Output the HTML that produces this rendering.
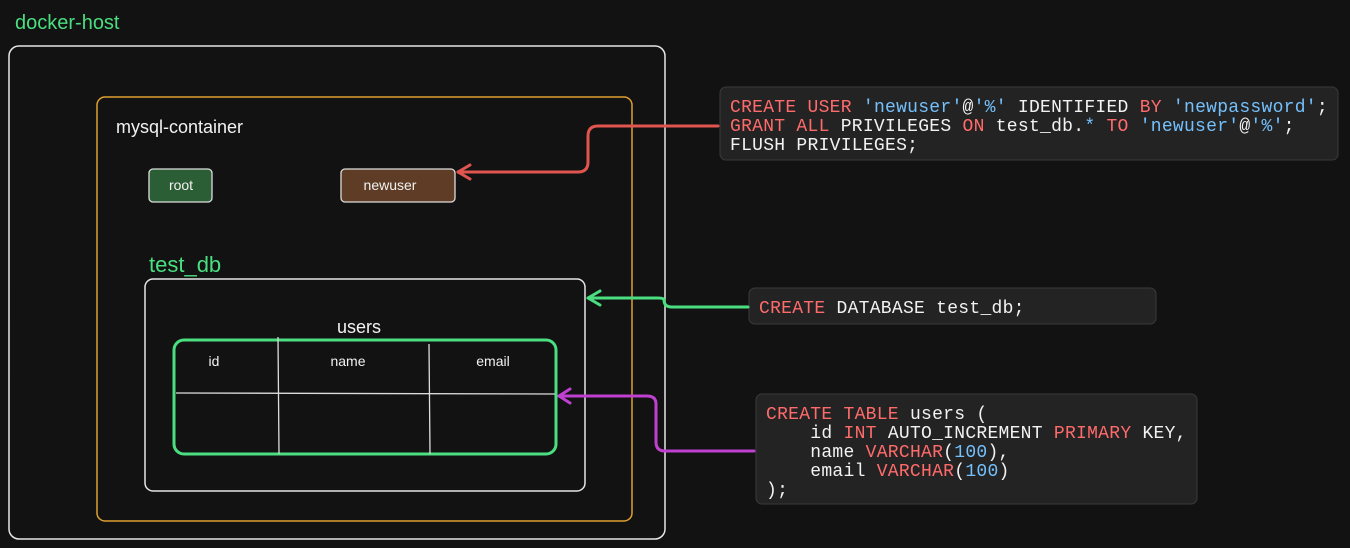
<!DOCTYPE html>
<html><head><meta charset="utf-8"><style>
html,body{margin:0;padding:0;background:#121212;}
svg{display:block}
.s{font-family:"Liberation Sans",sans-serif;}
.m{font-family:"Liberation Mono",monospace;font-size:18px;letter-spacing:0.27px;white-space:pre;}
.k{fill:#ff6b6b}.q{fill:#74c0fc}.w{fill:#f2f2f2}
</style></head><body>
<svg width="1350" height="548" viewBox="0 0 1350 548" xmlns="http://www.w3.org/2000/svg">
<rect width="1350" height="548" fill="#121212"/>
<text class="s" x="15" y="29" font-size="20" fill="#4ade80">docker-host</text>
<rect x="9" y="46" width="656" height="493" rx="10" fill="none" stroke="#e6e6e6" stroke-width="1.5"/>
<rect x="97" y="97" width="535" height="424" rx="8" fill="none" stroke="#e0a030" stroke-width="1.5"/>
<text class="s" x="116" y="133" font-size="18" fill="#f2f2f2">mysql-container</text>
<rect x="149" y="169" width="63" height="33" rx="4" fill="#2b5e35" stroke="#ddd" stroke-width="1.3"/>
<text class="s" x="181" y="190" font-size="14" fill="#f2f2f2" text-anchor="middle">root</text>
<rect x="341" y="169" width="114" height="33" rx="4" fill="#5e3c25" stroke="#ddd" stroke-width="1.3"/>
<text class="s" x="390" y="190" font-size="14" fill="#f2f2f2" text-anchor="middle">newuser</text>
<text class="s" x="149" y="272" font-size="22" fill="#4ade80">test_db</text>
<rect x="145" y="279" width="440" height="212" rx="8" fill="none" stroke="#e6e6e6" stroke-width="1.5"/>
<text class="s" x="359" y="333" font-size="18" fill="#f2f2f2" text-anchor="middle">users</text>
<rect x="174" y="340" width="382" height="114" rx="10" fill="none" stroke="#4ade80" stroke-width="3"/>
<line x1="278" y1="337" x2="279" y2="454" stroke="#ddd" stroke-width="1.3"/>
<line x1="429" y1="344" x2="430" y2="454" stroke="#ddd" stroke-width="1.3"/>
<line x1="176" y1="393" x2="555" y2="394" stroke="#ddd" stroke-width="1.3"/>
<text class="s" x="214" y="366" font-size="14" fill="#f2f2f2" text-anchor="middle">id</text>
<text class="s" x="348" y="366" font-size="14" fill="#f2f2f2" text-anchor="middle">name</text>
<text class="s" x="493" y="366" font-size="14" fill="#f2f2f2" text-anchor="middle">email</text>

<!-- code boxes -->
<rect x="720" y="87" width="618" height="73" rx="6" fill="#232323" stroke="#3a3a3a"/>
<text class="m" x="730" y="112"><tspan class="k">CREATE USER </tspan><tspan class="q">'newuser'</tspan><tspan class="w">@</tspan><tspan class="q">'%'</tspan><tspan class="w"> IDENTIFIED </tspan><tspan class="k">BY </tspan><tspan class="q">'newpassword'</tspan><tspan class="w">;</tspan></text>
<text class="m" x="730" y="131"><tspan class="k">GRANT ALL </tspan><tspan class="w">PRIVILEGES </tspan><tspan class="k">ON </tspan><tspan class="w">test_db.</tspan><tspan class="q">* </tspan><tspan class="k">TO </tspan><tspan class="q">'newuser'</tspan><tspan class="w">@</tspan><tspan class="q">'%'</tspan><tspan class="w">;</tspan></text>
<text class="m w" x="730" y="150">FLUSH PRIVILEGES;</text>

<rect x="749" y="288" width="407" height="36" rx="6" fill="#232323" stroke="#3a3a3a"/>
<text class="m" x="759" y="313"><tspan class="k">CREATE </tspan><tspan class="w">DATABASE test_db;</tspan></text>

<rect x="756" y="394" width="441" height="110" rx="6" fill="#232323" stroke="#3a3a3a"/>
<text class="m" x="766" y="419"><tspan class="k">CREATE TABLE </tspan><tspan class="w">users (</tspan></text>
<text class="m" x="766" y="438"><tspan class="w">    id </tspan><tspan class="k">INT </tspan><tspan class="w">AUTO_INCREMENT </tspan><tspan class="k">PRIMARY </tspan><tspan class="w">KEY,</tspan></text>
<text class="m" x="766" y="457"><tspan class="w">    name </tspan><tspan class="k">VARCHAR</tspan><tspan class="w">(</tspan><tspan class="q">100</tspan><tspan class="w">),</tspan></text>
<text class="m" x="766" y="476"><tspan class="w">    email </tspan><tspan class="k">VARCHAR</tspan><tspan class="w">(</tspan><tspan class="q">100</tspan><tspan class="w">)</tspan></text>
<text class="m w" x="766" y="495">);</text>

<!-- connectors -->
<g fill="none" stroke-width="3" stroke-linecap="round" stroke-linejoin="round">
<path d="M718 126 L598 126 Q588 126 588 136 L588 162 Q588 172 578 172 L458 172" stroke="#e0554f"/>
<path d="M470 165 L458 172 L470 179" stroke="#e0554f"/>
<path d="M748 307 L672 307 Q664 307 664 300 Q664 298 658 298 L588 298" stroke="#4ade80"/>
<path d="M600 291 L588 298 L600 305" stroke="#4ade80"/>
<path d="M754 451 L665 451 Q656 451 656 442 L656 404 Q656 396 647 396 L559 396" stroke="#c040d0"/>
<path d="M570 389 L559 396 L570 403" stroke="#c040d0"/>
</g>
</svg>
</body></html>
